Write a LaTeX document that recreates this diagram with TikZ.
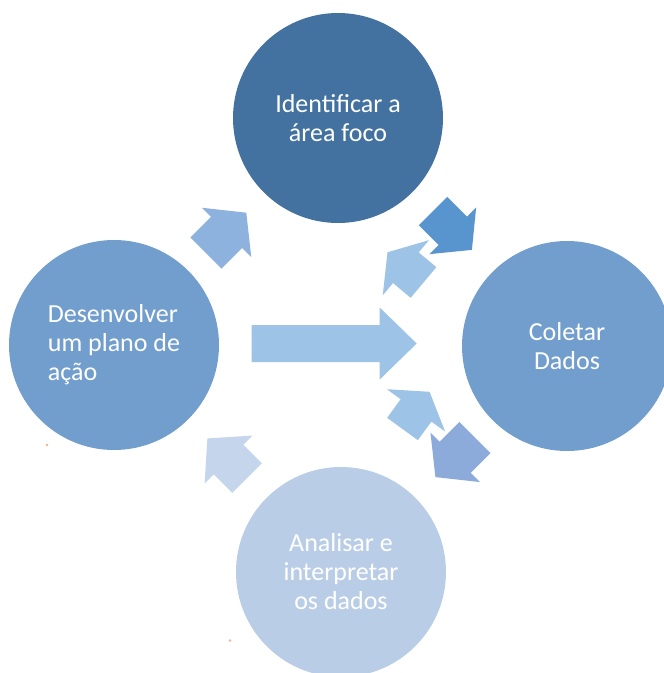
\documentclass[tikz,border=0pt]{standalone}
\usepackage{fontspec}
\setmainfont{Carlito}

% circle fills
\definecolor{circDark}{RGB}{67,114,160}
\definecolor{circMid}{RGB}{114,158,205}
\definecolor{circLight}{RGB}{186,205,231}
% arrow fills
\definecolor{arrLight}{RGB}{157,195,230}
\definecolor{arrSoft}{RGB}{142,178,222}
\definecolor{arrDeep}{RGB}{88,148,206}
\definecolor{arrSlate}{RGB}{140,170,218}
\definecolor{arrPale}{RGB}{197,214,236}
\definecolor{speck}{RGB}{244,177,131}

% block arrow: fill, tail midpoint, angle, shaft length, shaft half width, head length, head half width
\newcommand\blockarrow[7]{%
  \fill[#1, shift={(#2)}, rotate=#3]
    (0,-#5) -- (#4,-#5) -- (#4,-#7) -- ({#4+#6},0) -- (#4,#7) -- (#4,#5) -- (0,#5) -- cycle;}

\begin{document}
\begin{tikzpicture}[x=1pt, y=-1pt,
  stage/.style={circle, minimum size=210pt, inner sep=0pt, text=white, align=center,
                font=\fontsize{26}{29}\selectfont}]
  \useasboundingbox (0,0) rectangle (664,673);
  \clip (0,0) rectangle (664,673);

  % the four stages of the cycle
  \node[stage, fill=circDark]  (foco)    at (338,118) {Identificar a\\área foco};
  \node[stage, fill=circMid]   (coletar) at (567,346) {Coletar\\Dados};
  \node[stage, fill=circMid, align=left] (plano) at (114,345) {Desenvolver\\um plano de\\ação};
  \node[stage, fill=circLight, minimum size=210pt] (analise) at (341,572) {Analisar e\\interpretar\\os dados};

  % arrows between the stages
  \blockarrow{arrLight}{251.7,343.5}{0}{128}{18.5}{37}{36}
  \blockarrow{arrSoft}{206,253}{45}{29}{22}{28}{35}
  \blockarrow{arrDeep}{433,211}{-45}{28}{20}{27}{33}
  \blockarrow{arrLight}{423.5,282.5}{140}{23}{20}{24}{36}
  \blockarrow{arrLight}{402.5,429}{54}{23}{19}{23}{36}
  \blockarrow{arrSlate}{475,437.5}{225}{28}{22}{28}{35}
  \blockarrow{arrPale}{247,478}{135}{26}{21}{30}{34}

  % two small specks
  \fill[speck] (47,445) circle (1.3);
  \fill[speck] (230,640.5) circle (1.3);
\end{tikzpicture}
\end{document}
